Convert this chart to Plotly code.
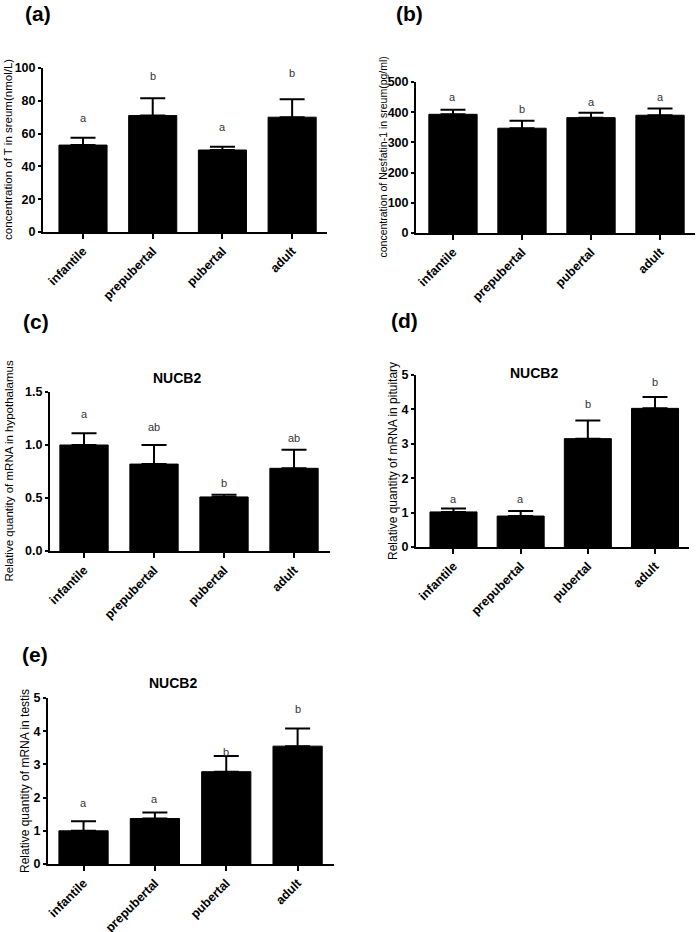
import plotly.graph_objects as go

W, H = 697, 932

categories = ["infantile", "prepubertal", "pubertal", "adult"]

# panel (a): testosterone in serum
a_values = [53, 71, 50, 70]
a_errors = [4.5, 10.5, 2, 11]
a_letters = ["a", "b", "a", "b"]
a_letter_y = [69.5, 95, 64, 97]

# panel (b): Nesfatin-1 in serum
b_values = [393, 347, 382, 390]
b_errors = [15, 25, 16, 22]
b_letters = ["a", "b", "a", "a"]
b_letter_y = [450, 410, 434, 450]

# panel (c): NUCB2 mRNA hypothalamus
c_values = [1.00, 0.82, 0.51, 0.78]
c_errors = [0.11, 0.18, 0.02, 0.175]
c_letters = ["a", "ab", "b", "ab"]
c_letter_y = [1.29, 1.17, 0.64, 1.065]

# panel (d): NUCB2 mRNA pituitary
d_values = [1.02, 0.90, 3.15, 4.03]
d_errors = [0.10, 0.15, 0.53, 0.33]
d_letters = ["a", "a", "b", "b"]
d_letter_y = [1.41, 1.41, 4.16, 4.8]

# panel (e): NUCB2 mRNA testis
e_values = [1.00, 1.37, 2.78, 3.55]
e_errors = [0.29, 0.18, 0.47, 0.53]
e_letters = ["a", "a", "b", "b"]
e_letter_y = [1.83, 1.96, 3.37, 4.68]

FONT = "Liberation Sans, Arial, sans-serif"


def fx(px):
    return min(1.0, max(0.0, px / W))


def fy(py):
    return min(1.0, max(0.0, 1 - py / H))


panels = [
    dict(tag="(a)", vals=a_values, errs=a_errors, let=a_letters, lety=a_letter_y,
         x0=43, x1=327, ytop=68, ybot=232, xr=[-0.574, 3.5], yr=[0, 100], dtick=20, fmt="d",
         bw=0.69, ytitle="concentration of T in sreum(nmol/L)", yt_x=8, yt_size=11.5,
         tag_xy=(38, 13), title=None),
    dict(tag="(b)", vals=b_values, errs=b_errors, let=b_letters, lety=b_letter_y,
         x0=416, x1=695, ytop=82, ybot=233, xr=[-0.536, 3.507], yr=[0, 500], dtick=100, fmt="d",
         bw=0.70, ytitle="concentration of Nesfatin-1 in sreum(pg/ml)", yt_x=382, yt_size=10.5,
         tag_xy=(409, 13), title=None),
    dict(tag="(c)", vals=c_values, errs=c_errors, let=c_letters, lety=c_letter_y,
         x0=50, x1=330, ytop=392, ybot=551, xr=[-0.486, 3.514], yr=[0, 1.5], dtick=0.5, fmt=".1f",
         bw=0.69, ytitle="Relative quantity of mRNA in hypothalamus", yt_x=8, yt_size=11.5,
         tag_xy=(36, 321), title=(177, 378)),
    dict(tag="(d)", vals=d_values, errs=d_errors, let=d_letters, lety=d_letter_y,
         x0=416, x1=689, ytop=375, ybot=547, xr=[-0.558, 3.506], yr=[0, 5], dtick=1, fmt="d",
         bw=0.70, ytitle="Relative quantity of mRNA in pituitary", yt_x=393, yt_size=12,
         tag_xy=(404, 320), title=(534, 373)),
    dict(tag="(e)", vals=e_values, errs=e_errors, let=e_letters, lety=e_letter_y,
         x0=48, x1=334, ytop=698, ybot=864, xr=[-0.498, 3.51], yr=[0, 5], dtick=1, fmt="d",
         bw=0.69, ytitle="Relative quantity of mRNA in testis", yt_x=25, yt_size=12,
         tag_xy=(35, 654), title=(173, 683)),
]

fig = go.Figure()
annotations = []
layout = {}

for i, p in enumerate(panels, start=1):
    xa = "x" if i == 1 else f"x{i}"
    ya = "y" if i == 1 else f"y{i}"
    xkey = "xaxis" if i == 1 else f"xaxis{i}"
    ykey = "yaxis" if i == 1 else f"yaxis{i}"
    xs = list(range(len(categories)))
    fig.add_trace(go.Bar(
        x=xs, y=p["vals"], width=p["bw"], xaxis=xa, yaxis=ya,
        marker=dict(color="black", line=dict(color="black", width=1)),
        error_y=dict(type="data", symmetric=False, array=p["errs"],
                     arrayminus=[0] * len(p["errs"]),
                     color="black", thickness=2, width=12.5),
        showlegend=False, hoverinfo="skip",
    ))
    layout[xkey] = dict(
        domain=[fx(p["x0"]), fx(p["x1"])], anchor=ya, range=p["xr"],
        tickmode="array", tickvals=xs, ticktext=categories, tickangle=-45,
        showline=True, linecolor="black", linewidth=2, ticks="outside",
        ticklen=5, tickwidth=2, tickcolor="black", showgrid=False, zeroline=False,
        tickfont=dict(family=FONT, size=12.5, color="black", weight="bold"),
        fixedrange=True, automargin=False,
    )
    layout[ykey] = dict(
        domain=[fy(p["ybot"]), fy(p["ytop"])], anchor=xa, range=p["yr"],
        dtick=p["dtick"], tick0=0, tickformat=p["fmt"],
        showline=True, linecolor="black", linewidth=2, ticks="outside",
        ticklen=3, tickwidth=2, tickcolor="black", showgrid=False, zeroline=False,
        tickfont=dict(family=FONT, size=12.5, color="black", weight="bold"),
        fixedrange=True, automargin=False,
    )
    # significance letters
    for k, (t, ly) in enumerate(zip(p["let"], p["lety"])):
        annotations.append(dict(
            x=k, y=ly, xref=xa, yref=ya, text=t, showarrow=False,
            xanchor="center", yanchor="middle",
            font=dict(family=FONT, size=11, color="#333333"),
        ))
    # y-axis title
    annotations.append(dict(
        x=fx(p["yt_x"]), y=fy((p["ytop"] + p["ybot"]) / 2),
        xref="paper", yref="paper", text=p["ytitle"], showarrow=False,
        textangle=-90, xanchor="center", yanchor="middle",
        font=dict(family=FONT, size=p["yt_size"], color="black"),
    ))
    # panel tag
    annotations.append(dict(
        x=fx(p["tag_xy"][0]), y=fy(p["tag_xy"][1]),
        xref="paper", yref="paper", text=p["tag"], showarrow=False,
        xanchor="center", yanchor="middle",
        font=dict(family=FONT, size=21, color="black", weight="bold"),
    ))
    if p["title"]:
        annotations.append(dict(
            x=fx(p["title"][0]), y=fy(p["title"][1]),
            xref="paper", yref="paper", text="NUCB2", showarrow=False,
            xanchor="center", yanchor="middle",
            font=dict(family=FONT, size=14, color="black", weight="bold"),
        ))

fig.update_layout(
    width=W, height=H, margin=dict(l=0, r=0, t=0, b=0),
    paper_bgcolor="white", plot_bgcolor="white",
    annotations=annotations, bargap=0.3, **layout,
)

fig.write_html(
    "out.html",
    config={"displayModeBar": False},
    post_script="document.body.style.margin='0';document.body.style.overflow='hidden';",
)
